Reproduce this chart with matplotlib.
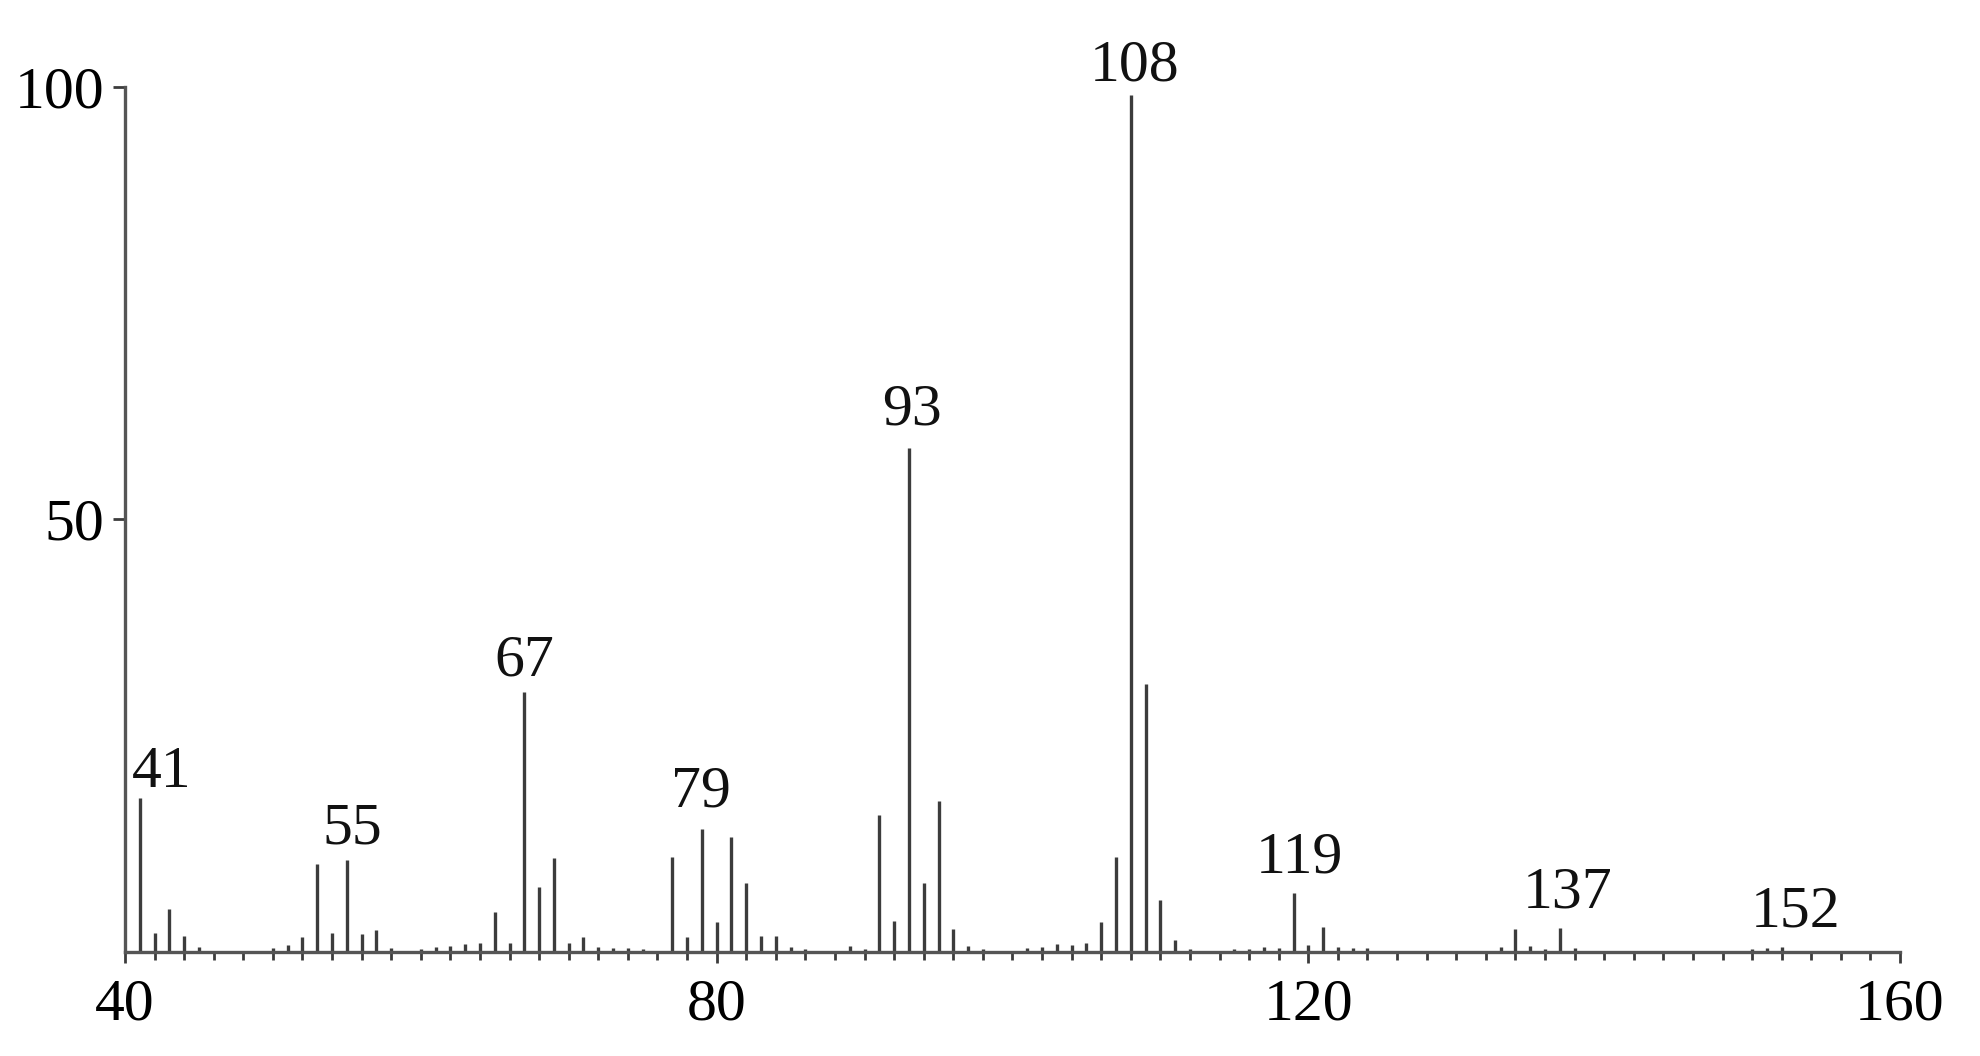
import numpy as np
import matplotlib
matplotlib.use("Agg")
import matplotlib.pyplot as plt
from matplotlib.ticker import MultipleLocator

# m/z and relative intensity (%)
mz = [41, 42, 43, 44, 45, 50, 51, 52, 53, 54, 55, 56, 57, 58,
      60, 61, 62, 63, 64, 65, 66, 67, 68, 69, 70, 71, 72, 73, 74, 75,
      77, 78, 79, 80, 81, 82, 83, 84, 85, 86, 89, 90,
      91, 92, 93, 94, 95, 96, 97, 98,
      101, 102, 103, 104, 105, 106, 107, 108, 109, 110, 111, 112,
      115, 116, 117, 118, 119, 120, 121, 122, 123, 124,
      133, 134, 135, 136, 137, 138, 150, 151, 152]
intensity = [17.8, 2.2, 5.0, 1.8, 0.6, 0.5, 0.8, 1.7, 10.2, 2.2, 10.6, 2.1, 2.5, 0.5,
             0.4, 0.6, 0.7, 0.9, 1.0, 4.6, 1.0, 30.0, 7.5, 10.9, 1.0, 1.7, 0.6, 0.5, 0.5, 0.4,
             11.0, 1.7, 14.2, 3.5, 13.3, 8.0, 1.8, 1.8, 0.6, 0.4, 0.7, 0.3,
             15.8, 3.6, 58.2, 8.0, 17.5, 2.6, 0.7, 0.4,
             0.5, 0.6, 0.9, 0.8, 1.0, 3.5, 11.0, 99.0, 31.0, 6.0, 1.4, 0.3,
             0.3, 0.4, 0.6, 0.5, 6.8, 0.8, 2.9, 0.6, 0.5, 0.5,
             0.6, 2.6, 0.7, 0.4, 2.8, 0.5, 0.3, 0.5, 0.6]

# labelled peaks
labels = [41, 55, 67, 79, 93, 108, 119, 137, 152]
# nudge of the label text (points)
label_dx = {41: 16, 55: 4, 67: 0, 79: -1, 93: 2, 108: 3, 119: 4, 137: 6, 152: 10}
label_dy = {41: 8, 55: 12, 67: 12.5, 79: 16, 93: 17, 108: 11, 119: 15, 137: 14.5, 152: 14.5}

col = '#3c3c3c'
plt.rcParams['font.family'] = ['Liberation Serif', 'DejaVu Serif']

fig = plt.figure(figsize=(19.8, 10.56), dpi=100)
ax = fig.add_axes([0.0631, 0.0985, 0.8965, 0.8194])

ax.vlines(mz, 0, intensity, color=col, lw=2.4)

lookup = dict(zip(mz, intensity))
for m in labels:
    ax.annotate(str(m), (m, lookup[m]), xytext=(label_dx[m], label_dy[m]),
                textcoords='offset points', ha='center', va='baseline',
                fontsize=43, color='#111111')

ax.set_xlim(40, 160)
ax.set_ylim(0, 100)
ax.xaxis.set_major_locator(MultipleLocator(40))
ax.xaxis.set_minor_locator(MultipleLocator(2))
ax.set_yticks([50, 100])

for s in ['top', 'right']:
    ax.spines[s].set_visible(False)
for s in ['left', 'bottom']:
    ax.spines[s].set_color('#555555')
    ax.spines[s].set_linewidth(2.4)

ax.tick_params(axis='x', which='major', direction='out', length=8, width=2,
               color=col, pad=11, labelsize=43)
ax.tick_params(axis='x', which='minor', direction='out', length=6, width=2,
               color=col)
ax.tick_params(axis='y', which='major', direction='out', length=9, width=2,
               color=col, pad=6, labelsize=43)

fig.savefig('out.png', dpi=100, facecolor='white')
